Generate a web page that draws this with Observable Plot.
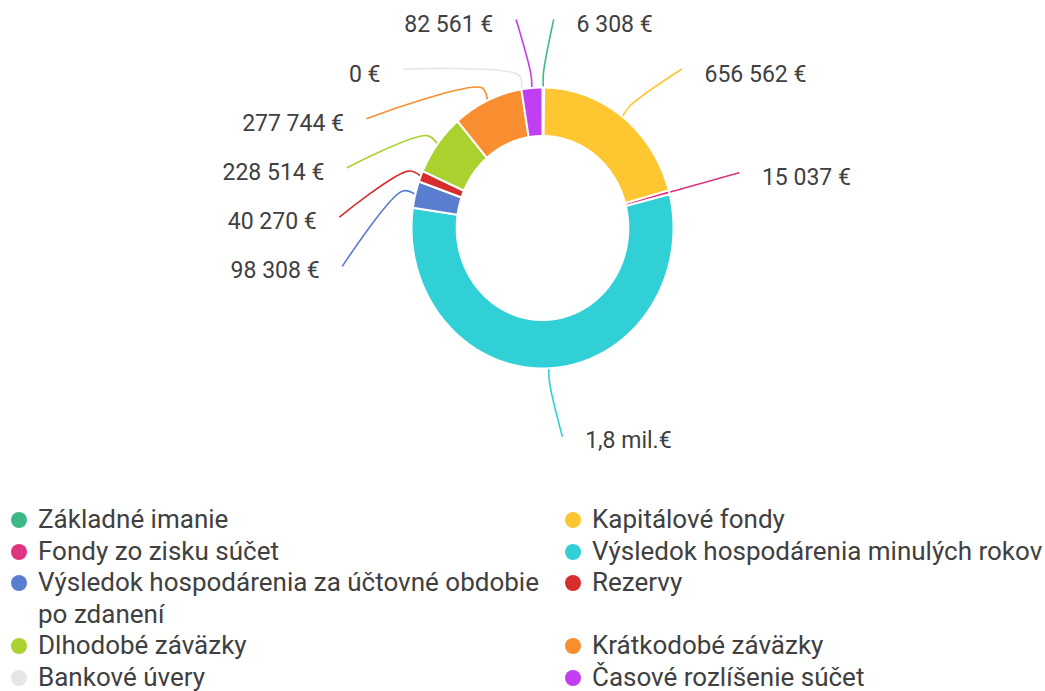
<!DOCTYPE html>
<html>
<head>
<meta charset="utf-8">
<script src="https://cdn.jsdelivr.net/npm/d3@7"></script>
<script src="https://cdn.jsdelivr.net/npm/@observablehq/plot@0.6"></script>
<style>
  html, body { margin: 0; padding: 0; background: #fff; }
  #chart { width: 1045px; height: 500px; }
  #legend {
    display: grid;
    grid-template-columns: 554px 1fr;
    padding-left: 11px;
    padding-top: 4px;
    font-family: Roboto, "Liberation Sans", sans-serif;
    font-size: 26px;
    line-height: 31.5px;
    color: #404040;
  }
  .item { display: flex; align-items: flex-start; }
  .dot { flex: 0 0 16px; width: 16px; height: 16px; border-radius: 50%; margin-top: 8px; margin-right: 11px; }
</style>
</head>
<body>
<div id="chart"></div>
<div id="legend"></div>
<script>
// ---- data ----
const names = [
  "Základné imanie",
  "Kapitálové fondy",
  "Fondy zo zisku súčet",
  "Výsledok hospodárenia minulých rokov",
  "Výsledok hospodárenia za účtovné obdobie po zdanení",
  "Rezervy",
  "Dlhodobé záväzky",
  "Krátkodobé záväzky",
  "Bankové úvery",
  "Časové rozlíšenie súčet"
];
const values = [6308, 656562, 15037, 1800000, 98308, 40270, 228514, 277744, 0, 82561];
const colors = ["#3cba86", "#fec631", "#dd3380", "#31cfd6", "#5a7ecf", "#d82d2d", "#a9d22f", "#f98e30", "#e6e6e6", "#c13ef2"];

// ---- layout helpers ----
const fmt = v => v >= 1e6
  ? (v / 1e6).toFixed(1).replace(".", ",") + " mil.€"
  : d3.format(",")(v).replace(/,/g, " ") + " €";

const total = d3.sum(values);
let acc = 0;
const slices = names.map((name, i) => {
  const a0 = acc / total * 2 * Math.PI;
  acc += values[i];
  const a1 = acc / total * 2 * Math.PI;
  return {name, value: values[i], a0, a1, mid: (a0 + a1) / 2};
});

const R_OUT = 1, R_IN = 0.655;
// slice polygons
const polys = [];
for (const s of slices) {
  if (s.value <= 0) continue;
  const n = Math.max(2, Math.ceil((s.a1 - s.a0) / 0.01));
  for (let k = 0; k <= n; k++) {
    const a = s.a0 + (s.a1 - s.a0) * k / n;
    polys.push({name: s.name, x: R_OUT * Math.sin(a), y: R_OUT * Math.cos(a)});
  }
  for (let k = n; k >= 0; k--) {
    const a = s.a0 + (s.a1 - s.a0) * k / n;
    polys.push({name: s.name, x: R_IN * Math.sin(a), y: R_IN * Math.cos(a)});
  }
}

// label placement
const R_LAB = 1.55, CLAMP = 1.48, GAP = 0.35, SHIFT = 0.075;
const labels = slices.map(s => {
  const side = Math.sin(s.mid) >= 0 ? 1 : -1;
  const ny0 = R_LAB * Math.cos(s.mid);
  let ny = ny0, clamped = false;
  if (ny > CLAMP) { ny = CLAMP; clamped = true; }
  if (ny < -CLAMP) { ny = -CLAMP; clamped = true; }
  return {...s, side, y0: ny0, y: ny, clamped, pushed: false};
});
for (const side of [1, -1]) {
  const group = labels.filter(l => l.side === side).sort((a, b) => b.y0 - a.y0);
  for (let i = 1; i < group.length; i++) {
    if (group[i].y > group[i - 1].y - GAP) {
      group[i].y = group[i - 1].y - GAP;
      group[i].pushed = true;
    }
  }
}
for (const l of labels) {
  if (l.pushed) l.x = l.side * Math.sqrt(Math.max(R_LAB * R_LAB - l.y * l.y, 0));
  else if (l.clamped) l.x = R_LAB * Math.sin(l.mid) + l.side * SHIFT;
  else l.x = R_LAB * Math.sin(l.mid);
  l.label = fmt(l.value);
}
const links = [];
for (const l of labels) {
  links.push({name: l.name, x: Math.sin(l.mid), y: Math.cos(l.mid)});
  links.push({name: l.name, x: 1.1 * Math.sin(l.mid), y: 1.1 * Math.cos(l.mid)});
  links.push({name: l.name, x: l.x, y: l.y});
}

const chart = Plot.plot({
  width: 1045,
  height: 500,
  x: {domain: [-1, 1], range: [411, 673], axis: null},
  y: {domain: [-1, 1], range: [368, 87], axis: null},
  color: {type: "ordinal", domain: names, range: colors},
  style: {fontFamily: "Roboto, 'Liberation Sans', sans-serif", background: "#fff"},
  marks: [
    Plot.line(links, {x: "x", y: "y", z: "name", stroke: "name", strokeWidth: 1.6, curve: "catmull-rom"}),
    Plot.line(polys, {x: "x", y: "y", z: "name", fill: "name", stroke: "white", strokeWidth: 2, curve: "linear-closed"}),
    Plot.text(labels.filter(l => l.side > 0), {x: "x", y: "y", text: "label", dx: 23, dy: 5, textAnchor: "start", fontSize: 23, fill: "#404040"}),
    Plot.text(labels.filter(l => l.side < 0), {x: "x", y: "y", text: "label", dx: -23, dy: 5, textAnchor: "end", fontSize: 23, fill: "#404040"})
  ]
});
document.getElementById("chart").appendChild(chart);

const legend = document.getElementById("legend");
names.forEach((n, i) => {
  const item = document.createElement("div");
  item.className = "item";
  const dot = document.createElement("span");
  dot.className = "dot";
  dot.style.background = colors[i];
  const txt = document.createElement("span");
  txt.textContent = n;
  item.appendChild(dot);
  item.appendChild(txt);
  legend.appendChild(item);
});
</script>
</body>
</html>
